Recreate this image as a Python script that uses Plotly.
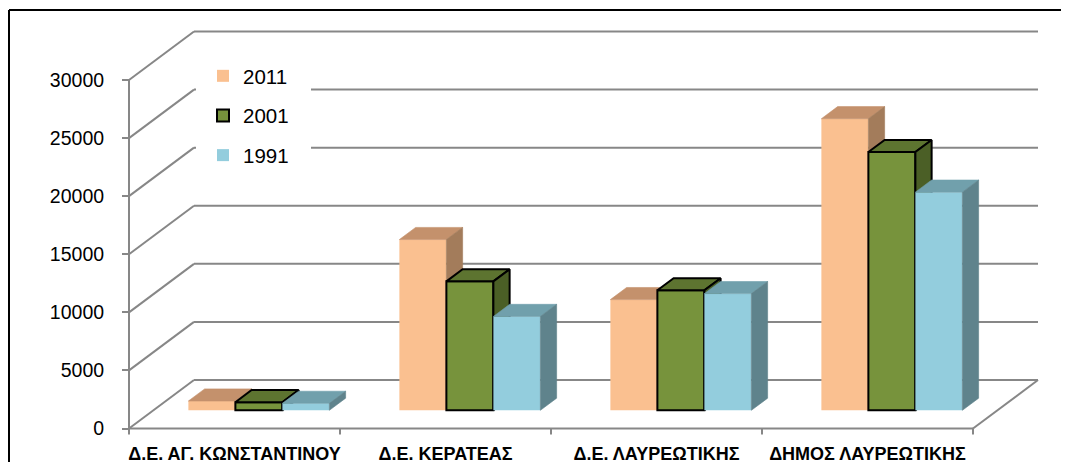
import plotly.graph_objects as go

# ---------------- data ----------------
categories = ["Δ.Ε. ΑΓ. ΚΩΝΣΤΑΝΤΙΝΟΥ", "Δ.Ε. ΚΕΡΑΤΕΑΣ", "Δ.Ε. ΛΑΥΡΕΩΤΙΚΗΣ", "ΔΗΜΟΣ ΛΑΥΡΕΩΤΙΚΗΣ"]
series_names = ["2011", "2001", "1991"]
values_2011 = [800, 14700, 9530, 25100]
values_2001 = [700, 11100, 10330, 22230]
values_1991 = [600, 8080, 10045, 18780]
y_ticks = [0, 5000, 10000, 15000, 20000, 25000, 30000]

# ---------------- styles ----------------
front_colors = ["#FAC090", "#77933C", "#93CDDD"]
top_colors = ["#C4916C", "#5D7430", "#71A0AC"]
side_colors = ["#A37C5B", "#4B5F26", "#5F838C"]
outline = [None, "black", None]
GRID = "#878787"
FONT = "Liberation Sans, Arial, sans-serif"

# ---------------- geometry (oblique 3D look) ----------------
OFF = 8                                # page body margin
W, H = 1069 - 2 * OFF, 470 - 2 * OFF
X0_PX, CAT_PX = 129.0 - OFF, 211.0     # front axis position, category width (px)
Y0_PX, PX_PER_UNIT = 428.5 - OFF, 348.5 / 30000.0
xr = [-X0_PX / CAT_PX, (W - X0_PX) / CAT_PX]
yr = [(Y0_PX - H) / PX_PER_UNIT, Y0_PX / PX_PER_UNIT]
DX = 65.0 / CAT_PX                    # full depth offset in x units
DY = 48.5 / PX_PER_UNIT               # full depth offset in y units
F0, FD = 0.375, 0.25                  # bar front depth fraction, bar depth fraction
BW = 47.0 / CAT_PX                    # bar width
ddx, ddy = FD * DX, FD * DY
base = F0 * DY
n = len(categories)

def px2x(p):
    return (p - OFF - X0_PX) / CAT_PX

def py2y(p):
    return (Y0_PX - (p - OFF)) / PX_PER_UNIT

fig = go.Figure()
all_values = [values_2011, values_2001, values_1991]
for k, (name, vals) in enumerate(zip(series_names, all_values)):
    ax = "" if k == 0 else str(k + 1)
    xs = [i + 0.5 + F0 * DX + (k - 1) * BW for i in range(n)]
    lc = outline[k] if outline[k] else front_colors[k]
    lw = 2 if outline[k] else 0
    fig.add_trace(go.Bar(
        x=xs, y=vals, base=[base] * n, width=[BW] * n, name=name,
        legendgroup=name, marker=dict(color=front_colors[k], line=dict(color=lc, width=lw)),
        xaxis="x" + ax, yaxis="y" + ax, hoverinfo="skip"))
    tx, ty, sx, sy = [], [], [], []
    for x, v in zip(xs, vals):
        xl, xrr, h = x - BW / 2, x + BW / 2, base + v
        tx += [xl, xrr, xrr + ddx, xl + ddx, xl, None]
        ty += [h, h, h + ddy, h + ddy, h, None]
        sx += [xrr, xrr, xrr + ddx, xrr + ddx, xrr, None]
        sy += [base, h, h + ddy, base + ddy, base, None]
    for px_, py_, col in [(tx, ty, top_colors[k]), (sx, sy, side_colors[k])]:
        fig.add_trace(go.Scatter(
            x=px_, y=py_, mode="lines", fill="toself", fillcolor=col,
            line=dict(color=outline[k] if outline[k] else col, width=2 if outline[k] else 0.6),
            showlegend=False, hoverinfo="skip", xaxis="x" + ax, yaxis="y" + ax))

# ---------------- walls / gridlines ----------------
shapes = []
def seg(x0, y0, x1, y1, color=GRID, width=2):
    shapes.append(dict(type="line", xref="x", yref="y", x0=x0, y0=y0, x1=x1, y1=y1,
                       line=dict(color=color, width=width), layer="below"))
for t in y_ticks:
    seg(DX, t + DY, n + DX, t + DY)   # back wall
    seg(0, t, DX, t + DY)             # side wall diagonal
seg(0, 0, n, 0)                        # floor front edge
seg(n, 0, n + DX, DY)                  # floor right edge
seg(0, 0, 0, y_ticks[-1])              # vertical value axis
tick_len = 6 / PX_PER_UNIT
for i in range(n + 1):
    seg(i, 0, i, -tick_len)
# white legend background
shapes.append(dict(type="rect", xref="x", yref="y",
                   x0=px2x(196), x1=px2x(311), y0=py2y(182), y1=py2y(44),
                   fillcolor="white", line=dict(width=0), layer="below"))
# outer frame (top and left edges; the rest lies outside the picture)
for x0, y0, x1, y1 in [(1 / W, 1 - 2 / H, 1.0, 1 - 2 / H), (1 / W, 1 - 2 / H, 1 / W, 0.0)]:
    shapes.append(dict(type="line", xref="paper", yref="paper", x0=x0, y0=y0, x1=x1, y1=y1,
                       line=dict(color="black", width=2), layer="above"))

fig.update_layout(
    width=W, height=H, margin=dict(l=0, r=0, t=0, b=0),
    paper_bgcolor="white", plot_bgcolor="white",
    barmode="overlay", shapes=shapes,
    xaxis=dict(range=xr, domain=[0, 1], anchor="free", position=(H - Y0_PX) / H,
               tickvals=[i + 0.5 for i in range(n)], ticktext=categories, tickangle=0,
               tickfont=dict(family=FONT, size=18, color="black", weight="bold"),
               ticks="", ticklabelstandoff=12, showgrid=False, zeroline=False,
               showline=False, automargin=False),
    yaxis=dict(range=yr, domain=[0, 1], anchor="free", position=X0_PX / W,
               tickvals=y_ticks, ticktext=[str(t) for t in y_ticks],
               tickfont=dict(family=FONT, size=19.5, color="black"),
               ticks="outside", ticklen=7, tickwidth=2, tickcolor=GRID,
               ticklabelstandoff=14, showgrid=False, zeroline=False, showline=False,
               automargin=False),
    xaxis2=dict(range=xr, overlaying="x", visible=False),
    yaxis2=dict(range=yr, overlaying="y", visible=False),
    xaxis3=dict(range=xr, overlaying="x", visible=False),
    yaxis3=dict(range=yr, overlaying="y", visible=False),
    legend=dict(x=(203 - OFF) / W, y=1 - (56 - OFF) / H, xanchor="left", yanchor="top",
                bgcolor="rgba(0,0,0,0)", font=dict(family=FONT, size=20.5, color="black"),
                tracegroupgap=10),
    showlegend=True,
)
fig.write_html("out.html", config={"displayModeBar": False})
